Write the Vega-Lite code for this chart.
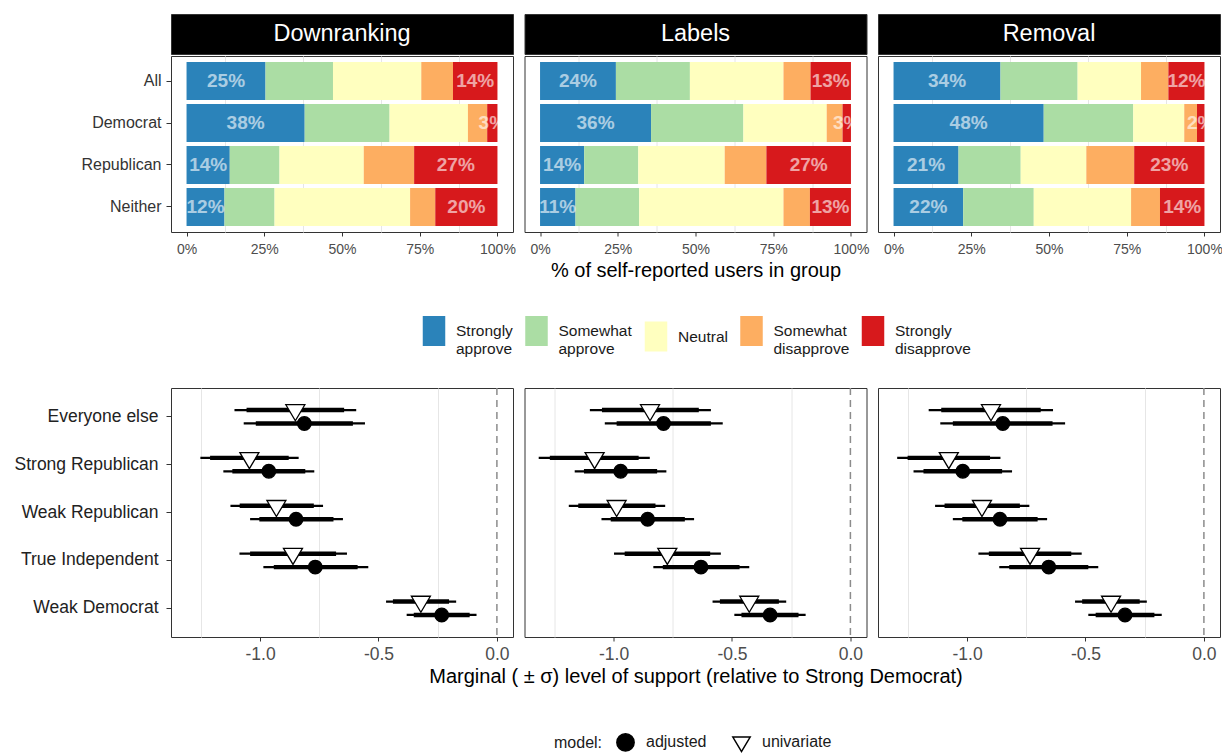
{
  "$schema": "https://vega.github.io/schema/vega-lite/v6.json",
  "padding": {"left": 13, "top": 13, "right": 2, "bottom": 0},
  "background": "white",
  "spacing": 29,
  "resolve": {"scale": {"fill": "independent", "shape": "independent"}, "legend": {"fill": "independent", "shape": "independent"}},
  "datasets": {
    "likert": [
      {"policy": "Downranking", "group": "All", "response": "Strongly approve", "level": 1, "pct": 0.254},
      {"policy": "Downranking", "group": "All", "response": "Somewhat approve", "level": 2, "pct": 0.217},
      {"policy": "Downranking", "group": "All", "response": "Neutral", "level": 3, "pct": 0.284},
      {"policy": "Downranking", "group": "All", "response": "Somewhat disapprove", "level": 4, "pct": 0.102},
      {"policy": "Downranking", "group": "All", "response": "Strongly disapprove", "level": 5, "pct": 0.143},
      {"policy": "Downranking", "group": "Democrat", "response": "Strongly approve", "level": 1, "pct": 0.380},
      {"policy": "Downranking", "group": "Democrat", "response": "Somewhat approve", "level": 2, "pct": 0.273},
      {"policy": "Downranking", "group": "Democrat", "response": "Neutral", "level": 3, "pct": 0.252},
      {"policy": "Downranking", "group": "Democrat", "response": "Somewhat disapprove", "level": 4, "pct": 0.062},
      {"policy": "Downranking", "group": "Democrat", "response": "Strongly disapprove", "level": 5, "pct": 0.033},
      {"policy": "Downranking", "group": "Republican", "response": "Strongly approve", "level": 1, "pct": 0.139},
      {"policy": "Downranking", "group": "Republican", "response": "Somewhat approve", "level": 2, "pct": 0.160},
      {"policy": "Downranking", "group": "Republican", "response": "Neutral", "level": 3, "pct": 0.271},
      {"policy": "Downranking", "group": "Republican", "response": "Somewhat disapprove", "level": 4, "pct": 0.162},
      {"policy": "Downranking", "group": "Republican", "response": "Strongly disapprove", "level": 5, "pct": 0.268},
      {"policy": "Downranking", "group": "Neither", "response": "Strongly approve", "level": 1, "pct": 0.122},
      {"policy": "Downranking", "group": "Neither", "response": "Somewhat approve", "level": 2, "pct": 0.161},
      {"policy": "Downranking", "group": "Neither", "response": "Neutral", "level": 3, "pct": 0.436},
      {"policy": "Downranking", "group": "Neither", "response": "Somewhat disapprove", "level": 4, "pct": 0.081},
      {"policy": "Downranking", "group": "Neither", "response": "Strongly disapprove", "level": 5, "pct": 0.200},
      {"policy": "Labels", "group": "All", "response": "Strongly approve", "level": 1, "pct": 0.244},
      {"policy": "Labels", "group": "All", "response": "Somewhat approve", "level": 2, "pct": 0.238},
      {"policy": "Labels", "group": "All", "response": "Neutral", "level": 3, "pct": 0.301},
      {"policy": "Labels", "group": "All", "response": "Somewhat disapprove", "level": 4, "pct": 0.087},
      {"policy": "Labels", "group": "All", "response": "Strongly disapprove", "level": 5, "pct": 0.130},
      {"policy": "Labels", "group": "Democrat", "response": "Strongly approve", "level": 1, "pct": 0.357},
      {"policy": "Labels", "group": "Democrat", "response": "Somewhat approve", "level": 2, "pct": 0.297},
      {"policy": "Labels", "group": "Democrat", "response": "Neutral", "level": 3, "pct": 0.268},
      {"policy": "Labels", "group": "Democrat", "response": "Somewhat disapprove", "level": 4, "pct": 0.051},
      {"policy": "Labels", "group": "Democrat", "response": "Strongly disapprove", "level": 5, "pct": 0.027},
      {"policy": "Labels", "group": "Republican", "response": "Strongly approve", "level": 1, "pct": 0.142},
      {"policy": "Labels", "group": "Republican", "response": "Somewhat approve", "level": 2, "pct": 0.174},
      {"policy": "Labels", "group": "Republican", "response": "Neutral", "level": 3, "pct": 0.278},
      {"policy": "Labels", "group": "Republican", "response": "Somewhat disapprove", "level": 4, "pct": 0.134},
      {"policy": "Labels", "group": "Republican", "response": "Strongly disapprove", "level": 5, "pct": 0.272},
      {"policy": "Labels", "group": "Neither", "response": "Strongly approve", "level": 1, "pct": 0.114},
      {"policy": "Labels", "group": "Neither", "response": "Somewhat approve", "level": 2, "pct": 0.205},
      {"policy": "Labels", "group": "Neither", "response": "Neutral", "level": 3, "pct": 0.464},
      {"policy": "Labels", "group": "Neither", "response": "Somewhat disapprove", "level": 4, "pct": 0.085},
      {"policy": "Labels", "group": "Neither", "response": "Strongly disapprove", "level": 5, "pct": 0.132},
      {"policy": "Removal", "group": "All", "response": "Strongly approve", "level": 1, "pct": 0.344},
      {"policy": "Removal", "group": "All", "response": "Somewhat approve", "level": 2, "pct": 0.248},
      {"policy": "Removal", "group": "All", "response": "Neutral", "level": 3, "pct": 0.204},
      {"policy": "Removal", "group": "All", "response": "Somewhat disapprove", "level": 4, "pct": 0.088},
      {"policy": "Removal", "group": "All", "response": "Strongly disapprove", "level": 5, "pct": 0.116},
      {"policy": "Removal", "group": "Democrat", "response": "Strongly approve", "level": 1, "pct": 0.483},
      {"policy": "Removal", "group": "Democrat", "response": "Somewhat approve", "level": 2, "pct": 0.288},
      {"policy": "Removal", "group": "Democrat", "response": "Neutral", "level": 3, "pct": 0.164},
      {"policy": "Removal", "group": "Democrat", "response": "Somewhat disapprove", "level": 4, "pct": 0.041},
      {"policy": "Removal", "group": "Democrat", "response": "Strongly disapprove", "level": 5, "pct": 0.024},
      {"policy": "Removal", "group": "Republican", "response": "Strongly approve", "level": 1, "pct": 0.209},
      {"policy": "Removal", "group": "Republican", "response": "Somewhat approve", "level": 2, "pct": 0.200},
      {"policy": "Removal", "group": "Republican", "response": "Neutral", "level": 3, "pct": 0.211},
      {"policy": "Removal", "group": "Republican", "response": "Somewhat disapprove", "level": 4, "pct": 0.154},
      {"policy": "Removal", "group": "Republican", "response": "Strongly disapprove", "level": 5, "pct": 0.226},
      {"policy": "Removal", "group": "Neither", "response": "Strongly approve", "level": 1, "pct": 0.224},
      {"policy": "Removal", "group": "Neither", "response": "Somewhat approve", "level": 2, "pct": 0.227},
      {"policy": "Removal", "group": "Neither", "response": "Neutral", "level": 3, "pct": 0.313},
      {"policy": "Removal", "group": "Neither", "response": "Somewhat disapprove", "level": 4, "pct": 0.093},
      {"policy": "Removal", "group": "Neither", "response": "Strongly disapprove", "level": 5, "pct": 0.143}
    ],
    "est": [
      {"p": "Downranking", "g": "Everyone else", "m": "univariate", "est": -0.851, "lo1": -1.057, "hi1": -0.645, "lo2": -1.108, "hi2": -0.594},
      {"p": "Downranking", "g": "Everyone else", "m": "adjusted", "est": -0.813, "lo1": -1.018, "hi1": -0.608, "lo2": -1.069, "hi2": -0.557},
      {"p": "Downranking", "g": "Strong Republican", "m": "univariate", "est": -1.045, "lo1": -1.211, "hi1": -0.879, "lo2": -1.252, "hi2": -0.837},
      {"p": "Downranking", "g": "Strong Republican", "m": "adjusted", "est": -0.963, "lo1": -1.117, "hi1": -0.809, "lo2": -1.155, "hi2": -0.771},
      {"p": "Downranking", "g": "Weak Republican", "m": "univariate", "est": -0.931, "lo1": -1.086, "hi1": -0.773, "lo2": -1.125, "hi2": -0.734},
      {"p": "Downranking", "g": "Weak Republican", "m": "adjusted", "est": -0.848, "lo1": -1.003, "hi1": -0.690, "lo2": -1.042, "hi2": -0.650},
      {"p": "Downranking", "g": "True Independent", "m": "univariate", "est": -0.861, "lo1": -1.042, "hi1": -0.679, "lo2": -1.087, "hi2": -0.633},
      {"p": "Downranking", "g": "True Independent", "m": "adjusted", "est": -0.767, "lo1": -0.942, "hi1": -0.588, "lo2": -0.986, "hi2": -0.543},
      {"p": "Downranking", "g": "Weak Democrat", "m": "univariate", "est": -0.321, "lo1": -0.439, "hi1": -0.202, "lo2": -0.468, "hi2": -0.172},
      {"p": "Downranking", "g": "Weak Democrat", "m": "adjusted", "est": -0.233, "lo1": -0.351, "hi1": -0.115, "lo2": -0.381, "hi2": -0.086},
      {"p": "Labels", "g": "Everyone else", "m": "univariate", "est": -0.846, "lo1": -1.049, "hi1": -0.640, "lo2": -1.100, "hi2": -0.589},
      {"p": "Labels", "g": "Everyone else", "m": "adjusted", "est": -0.789, "lo1": -0.987, "hi1": -0.589, "lo2": -1.037, "hi2": -0.539},
      {"p": "Labels", "g": "Strong Republican", "m": "univariate", "est": -1.080, "lo1": -1.269, "hi1": -0.894, "lo2": -1.316, "hi2": -0.847},
      {"p": "Labels", "g": "Strong Republican", "m": "adjusted", "est": -0.970, "lo1": -1.125, "hi1": -0.816, "lo2": -1.164, "hi2": -0.777},
      {"p": "Labels", "g": "Weak Republican", "m": "univariate", "est": -0.987, "lo1": -1.149, "hi1": -0.823, "lo2": -1.189, "hi2": -0.782},
      {"p": "Labels", "g": "Weak Republican", "m": "adjusted", "est": -0.856, "lo1": -1.012, "hi1": -0.699, "lo2": -1.051, "hi2": -0.660},
      {"p": "Labels", "g": "True Independent", "m": "univariate", "est": -0.773, "lo1": -0.953, "hi1": -0.592, "lo2": -0.998, "hi2": -0.547},
      {"p": "Labels", "g": "True Independent", "m": "adjusted", "est": -0.631, "lo1": -0.792, "hi1": -0.468, "lo2": -0.832, "hi2": -0.427},
      {"p": "Labels", "g": "Weak Democrat", "m": "univariate", "est": -0.427, "lo1": -0.551, "hi1": -0.302, "lo2": -0.582, "hi2": -0.271},
      {"p": "Labels", "g": "Weak Democrat", "m": "adjusted", "est": -0.339, "lo1": -0.460, "hi1": -0.219, "lo2": -0.490, "hi2": -0.189},
      {"p": "Removal", "g": "Everyone else", "m": "univariate", "est": -0.899, "lo1": -1.109, "hi1": -0.689, "lo2": -1.162, "hi2": -0.637},
      {"p": "Removal", "g": "Everyone else", "m": "adjusted", "est": -0.849, "lo1": -1.060, "hi1": -0.639, "lo2": -1.113, "hi2": -0.586},
      {"p": "Removal", "g": "Strong Republican", "m": "univariate", "est": -1.077, "lo1": -1.251, "hi1": -0.903, "lo2": -1.295, "hi2": -0.859},
      {"p": "Removal", "g": "Strong Republican", "m": "adjusted", "est": -1.018, "lo1": -1.184, "hi1": -0.852, "lo2": -1.226, "hi2": -0.810},
      {"p": "Removal", "g": "Weak Republican", "m": "univariate", "est": -0.937, "lo1": -1.095, "hi1": -0.777, "lo2": -1.135, "hi2": -0.737},
      {"p": "Removal", "g": "Weak Republican", "m": "adjusted", "est": -0.861, "lo1": -1.020, "hi1": -0.702, "lo2": -1.060, "hi2": -0.662},
      {"p": "Removal", "g": "True Independent", "m": "univariate", "est": -0.734, "lo1": -0.908, "hi1": -0.560, "lo2": -0.952, "hi2": -0.516},
      {"p": "Removal", "g": "True Independent", "m": "adjusted", "est": -0.655, "lo1": -0.822, "hi1": -0.488, "lo2": -0.864, "hi2": -0.446},
      {"p": "Removal", "g": "Weak Democrat", "m": "univariate", "est": -0.392, "lo1": -0.514, "hi1": -0.271, "lo2": -0.544, "hi2": -0.241},
      {"p": "Removal", "g": "Weak Democrat", "m": "adjusted", "est": -0.333, "lo1": -0.457, "hi1": -0.209, "lo2": -0.488, "hi2": -0.178}
    ]
  },
  "vconcat": [
    {
      "spacing": 0,
      "vconcat": [
        {
          "spacing": 11.5, "bounds": "flush",
          "hconcat": [
            {"width": 342, "height": 40, "view": {"fill": "black", "stroke": "#333333"},
             "data": {"values": [{"strip": "Downranking"}]},
             "mark": {"type": "text", "color": "white", "fontSize": 23.5},
             "encoding": {"text": {"field": "strip", "type": "nominal"}}},
            {"width": 342, "height": 40, "view": {"fill": "black", "stroke": "#333333"},
             "data": {"values": [{"strip": "Labels"}]},
             "mark": {"type": "text", "color": "white", "fontSize": 23.5},
             "encoding": {"text": {"field": "strip", "type": "nominal"}}},
            {"width": 342, "height": 40, "view": {"fill": "black", "stroke": "#333333"},
             "data": {"values": [{"strip": "Removal"}]},
             "mark": {"type": "text", "color": "white", "fontSize": 23.5},
             "encoding": {"text": {"field": "strip", "type": "nominal"}}}
          ]
        },
        {
          "spacing": 11.5, "bounds": "flush",
          "hconcat": [
            {"width": 342, "height": 176,
             "data": {"name": "likert"},
             "transform": [{"filter": "datum.policy === 'Downranking'"}],
             "layer": [
               {"mark": {"type": "bar"},
                "encoding": {
                  "y": {"field": "group", "type": "nominal", "sort": ["All", "Democrat", "Republican", "Neither"], "scale": {"paddingInner": 0.095, "paddingOuter": 0.143}, "axis": {"title": null, "labelFontSize": 16, "labelColor": "#333333", "tickSize": 5, "labelPadding": 5}},
                  "x": {"field": "pct", "type": "quantitative", "stack": "zero", "scale": {"domain": [-0.05, 1.05], "nice": false, "zero": false},
                        "axis": {"title": null, "values": [0, 0.125, 0.25, 0.375, 0.5, 0.625, 0.75, 0.875, 1], "format": ".0%", "labelExpr": "indexof([0, 0.25, 0.5, 0.75, 1], datum.value) >= 0 ? datum.label : ''", "gridOpacity": {"condition": {"test": "indexof([0, 0.25, 0.5, 0.75, 1], datum.value) >= 0", "value": 0}, "value": 1}, "tickOpacity": {"condition": {"test": "indexof([0, 0.25, 0.5, 0.75, 1], datum.value) >= 0", "value": 1}, "value": 0}, "labelFontSize": 14, "tickSize": 4, "labelPadding": 6}},
                  "fill": {"field": "response", "type": "nominal",
                           "scale": {"domain": ["Strongly approve", "Somewhat approve", "Neutral", "Somewhat disapprove", "Strongly disapprove"], "range": ["#2b83ba", "#abdda4", "#ffffbf", "#fdae61", "#d7191c"]},
                           "legend": {"orient": "none", "legendX": 248, "legendY": 302, "direction": "horizontal", "title": null, "symbolType": "M-0.75,-1H0.75V1H-0.75Z", "symbolSize": 900, "symbolStrokeWidth": 0, "symbolOpacity": 1, "labelFontSize": 15.5, "labelColor": "#1a1a1a", "labelLimit": 200, "labelOffset": 7, "labelExpr": "split(datum.label, ' ')", "labelLineHeight": 16, "columnPadding": 8.5, "padding": 0}},
                  "order": {"field": "level", "type": "quantitative"}
                }},
               {"mark": {"type": "text", "color": "white", "opacity": 0.6, "fontSize": 19, "fontWeight": "bold"},
                "encoding": {
                  "y": {"field": "group", "type": "nominal", "sort": ["All", "Democrat", "Republican", "Neither"]},
                  "x": {"field": "pct", "type": "quantitative", "stack": "zero", "bandPosition": 0.5},
                  "detail": {"field": "response", "type": "nominal"},
                  "order": {"field": "level", "type": "quantitative"},
                  "text": {"condition": {"test": "datum.level == 1 || datum.level == 5", "field": "pct", "type": "quantitative", "format": ".0%"}, "value": ""}
                }}
             ]},
            {"width": 342, "height": 176,
             "data": {"name": "likert"},
             "transform": [{"filter": "datum.policy === 'Labels'"}],
             "layer": [
               {"mark": {"type": "bar"},
                "encoding": {
                  "y": {"field": "group", "type": "nominal", "sort": ["All", "Democrat", "Republican", "Neither"], "scale": {"paddingInner": 0.095, "paddingOuter": 0.143}, "axis": null},
                  "x": {"field": "pct", "type": "quantitative", "stack": "zero", "scale": {"domain": [-0.05, 1.05], "nice": false, "zero": false},
                        "axis": {"title": "% of self-reported users in group", "titleFontSize": 20, "titlePadding": 4, "values": [0, 0.125, 0.25, 0.375, 0.5, 0.625, 0.75, 0.875, 1], "format": ".0%", "labelExpr": "indexof([0, 0.25, 0.5, 0.75, 1], datum.value) >= 0 ? datum.label : ''", "gridOpacity": {"condition": {"test": "indexof([0, 0.25, 0.5, 0.75, 1], datum.value) >= 0", "value": 0}, "value": 1}, "tickOpacity": {"condition": {"test": "indexof([0, 0.25, 0.5, 0.75, 1], datum.value) >= 0", "value": 1}, "value": 0}, "labelFontSize": 14, "tickSize": 4, "labelPadding": 6}},
                  "fill": {"field": "response", "type": "nominal", "legend": null},
                  "order": {"field": "level", "type": "quantitative"}
                }},
               {"mark": {"type": "text", "color": "white", "opacity": 0.6, "fontSize": 19, "fontWeight": "bold"},
                "encoding": {
                  "y": {"field": "group", "type": "nominal", "sort": ["All", "Democrat", "Republican", "Neither"]},
                  "x": {"field": "pct", "type": "quantitative", "stack": "zero", "bandPosition": 0.5},
                  "detail": {"field": "response", "type": "nominal"},
                  "order": {"field": "level", "type": "quantitative"},
                  "text": {"condition": {"test": "datum.level == 1 || datum.level == 5", "field": "pct", "type": "quantitative", "format": ".0%"}, "value": ""}
                }}
             ]},
            {"width": 342, "height": 176,
             "data": {"name": "likert"},
             "transform": [{"filter": "datum.policy === 'Removal'"}],
             "layer": [
               {"mark": {"type": "bar"},
                "encoding": {
                  "y": {"field": "group", "type": "nominal", "sort": ["All", "Democrat", "Republican", "Neither"], "scale": {"paddingInner": 0.095, "paddingOuter": 0.143}, "axis": null},
                  "x": {"field": "pct", "type": "quantitative", "stack": "zero", "scale": {"domain": [-0.05, 1.05], "nice": false, "zero": false},
                        "axis": {"title": null, "values": [0, 0.125, 0.25, 0.375, 0.5, 0.625, 0.75, 0.875, 1], "format": ".0%", "labelExpr": "indexof([0, 0.25, 0.5, 0.75, 1], datum.value) >= 0 ? datum.label : ''", "gridOpacity": {"condition": {"test": "indexof([0, 0.25, 0.5, 0.75, 1], datum.value) >= 0", "value": 0}, "value": 1}, "tickOpacity": {"condition": {"test": "indexof([0, 0.25, 0.5, 0.75, 1], datum.value) >= 0", "value": 1}, "value": 0}, "labelFontSize": 14, "tickSize": 4, "labelPadding": 6}},
                  "fill": {"field": "response", "type": "nominal", "legend": null},
                  "order": {"field": "level", "type": "quantitative"}
                }},
               {"mark": {"type": "text", "color": "white", "opacity": 0.6, "fontSize": 19, "fontWeight": "bold"},
                "encoding": {
                  "y": {"field": "group", "type": "nominal", "sort": ["All", "Democrat", "Republican", "Neither"]},
                  "x": {"field": "pct", "type": "quantitative", "stack": "zero", "bandPosition": 0.5},
                  "detail": {"field": "response", "type": "nominal"},
                  "order": {"field": "level", "type": "quantitative"},
                  "text": {"condition": {"test": "datum.level == 1 || datum.level == 5", "field": "pct", "type": "quantitative", "format": ".0%"}, "value": ""}
                }}
             ]}
          ]
        }
      ]
    },
    {
      "spacing": 11.5, "bounds": "flush",
      "hconcat": [
        {"width": 342, "height": 249,
         "layer": [
           {"data": {"values": [{"ref": 0}]},
            "mark": {"type": "rule", "color": "#8c8c8c", "strokeDash": [7, 5], "strokeWidth": 1.5},
            "encoding": {"x": {"field": "ref", "type": "quantitative", "scale": {"domain": [-1.376, 0.068], "nice": false, "zero": false},
              "axis": {"title": null, "values": [-1.25, -1, -0.75, -0.5, -0.25, 0], "format": ".1f", "labelExpr": "indexof([-1, -0.5, 0], datum.value) >= 0 ? replace(datum.label, '\u2212', '-') : ''", "gridOpacity": {"condition": {"test": "indexof([-1, -0.5, 0], datum.value) >= 0", "value": 0}, "value": 1}, "tickOpacity": {"condition": {"test": "indexof([-1, -0.5, 0], datum.value) >= 0", "value": 1}, "value": 0}, "labelFontSize": 17.5, "tickSize": 4, "labelPadding": 4}}}},
           {"data": {"name": "est"}, "transform": [{"filter": "datum.p === 'Downranking'"}],
            "mark": {"type": "rule", "color": "black", "strokeWidth": 2.2},
            "encoding": {
              "y": {"field": "g", "type": "nominal", "sort": ["Everyone else", "Strong Republican", "Weak Republican", "True Independent", "Weak Democrat"], "scale": {"paddingInner": 0, "paddingOuter": 0.1}, "axis": {"title": null, "labelFontSize": 17.5, "labelColor": "#222222", "tickSize": 5, "labelPadding": 8}},
              "yOffset": {"field": "m", "type": "nominal", "sort": ["univariate", "adjusted"], "scale": {"paddingInner": 0, "paddingOuter": 0.787}},
              "x": {"field": "lo2", "type": "quantitative"}, "x2": {"field": "hi2"}}},
           {"data": {"name": "est"}, "transform": [{"filter": "datum.p === 'Downranking'"}],
            "mark": {"type": "rule", "color": "black", "strokeWidth": 4.4},
            "encoding": {
              "y": {"field": "g", "type": "nominal", "sort": ["Everyone else", "Strong Republican", "Weak Republican", "True Independent", "Weak Democrat"]},
              "yOffset": {"field": "m", "type": "nominal", "sort": ["univariate", "adjusted"]},
              "x": {"field": "lo1", "type": "quantitative"}, "x2": {"field": "hi1"}}},
           {"data": {"name": "est"}, "transform": [{"filter": "datum.p === 'Downranking'"}],
            "mark": {"type": "point", "filled": true, "stroke": "black", "strokeWidth": 1.3, "opacity": 1},
            "encoding": {
              "y": {"field": "g", "type": "nominal", "sort": ["Everyone else", "Strong Republican", "Weak Republican", "True Independent", "Weak Democrat"]},
              "yOffset": {"field": "m", "type": "nominal", "sort": ["univariate", "adjusted"]},
              "x": {"field": "est", "type": "quantitative"},
              "shape": {"field": "m", "type": "nominal", "scale": {"domain": ["adjusted", "univariate"], "range": ["circle", "M-1,-0.56L1,-0.56L0,1.13Z"]},
                "legend": {"orient": "none", "legendX": 383, "legendY": 344, "direction": "horizontal", "title": "model:", "titleOrient": "left", "titleFontSize": 16, "titleFontWeight": "normal", "titleColor": "#1a1a1a", "titlePadding": 13, "titleBaseline": "middle", "titleAnchor": "middle", "labelFontSize": 16, "labelColor": "#1a1a1a", "symbolSize": 300, "symbolStrokeWidth": 1.5, "labelOffset": 11, "columnPadding": 22, "padding": 0}},
              "fill": {"field": "m", "type": "nominal", "scale": {"domain": ["adjusted", "univariate"], "range": ["black", "white"]},
                "legend": {"orient": "none", "legendX": 383, "legendY": 344, "direction": "horizontal", "title": "model:", "titleOrient": "left", "titleFontSize": 16, "titleFontWeight": "normal", "titleColor": "#1a1a1a", "titlePadding": 13, "titleBaseline": "middle", "titleAnchor": "middle", "labelFontSize": 16, "labelColor": "#1a1a1a", "symbolSize": 300, "symbolStrokeWidth": 1.5, "labelOffset": 11, "columnPadding": 22, "padding": 0}},
              "size": {"condition": {"test": "datum.m === 'adjusted'", "value": 185}, "value": 361}}}
         ]},
        {"width": 342, "height": 249,
         "layer": [
           {"data": {"values": [{"ref": 0}]},
            "mark": {"type": "rule", "color": "#8c8c8c", "strokeDash": [7, 5], "strokeWidth": 1.5},
            "encoding": {"x": {"field": "ref", "type": "quantitative", "scale": {"domain": [-1.376, 0.068], "nice": false, "zero": false},
              "axis": {"title": "Marginal ( \u00b1 \u03c3) level of support (relative to Strong Democrat)", "titleFontSize": 20, "titlePadding": 4, "values": [-1.25, -1, -0.75, -0.5, -0.25, 0], "format": ".1f", "labelExpr": "indexof([-1, -0.5, 0], datum.value) >= 0 ? replace(datum.label, '\u2212', '-') : ''", "gridOpacity": {"condition": {"test": "indexof([-1, -0.5, 0], datum.value) >= 0", "value": 0}, "value": 1}, "tickOpacity": {"condition": {"test": "indexof([-1, -0.5, 0], datum.value) >= 0", "value": 1}, "value": 0}, "labelFontSize": 17.5, "tickSize": 4, "labelPadding": 4}}}},
           {"data": {"name": "est"}, "transform": [{"filter": "datum.p === 'Labels'"}],
            "mark": {"type": "rule", "color": "black", "strokeWidth": 2.2},
            "encoding": {
              "y": {"field": "g", "type": "nominal", "sort": ["Everyone else", "Strong Republican", "Weak Republican", "True Independent", "Weak Democrat"], "scale": {"paddingInner": 0, "paddingOuter": 0.1}, "axis": null},
              "yOffset": {"field": "m", "type": "nominal", "sort": ["univariate", "adjusted"]},
              "x": {"field": "lo2", "type": "quantitative"}, "x2": {"field": "hi2"}}},
           {"data": {"name": "est"}, "transform": [{"filter": "datum.p === 'Labels'"}],
            "mark": {"type": "rule", "color": "black", "strokeWidth": 4.4},
            "encoding": {
              "y": {"field": "g", "type": "nominal", "sort": ["Everyone else", "Strong Republican", "Weak Republican", "True Independent", "Weak Democrat"]},
              "yOffset": {"field": "m", "type": "nominal", "sort": ["univariate", "adjusted"]},
              "x": {"field": "lo1", "type": "quantitative"}, "x2": {"field": "hi1"}}},
           {"data": {"name": "est"}, "transform": [{"filter": "datum.p === 'Labels'"}],
            "mark": {"type": "point", "filled": true, "stroke": "black", "strokeWidth": 1.3, "opacity": 1},
            "encoding": {
              "y": {"field": "g", "type": "nominal", "sort": ["Everyone else", "Strong Republican", "Weak Republican", "True Independent", "Weak Democrat"]},
              "yOffset": {"field": "m", "type": "nominal", "sort": ["univariate", "adjusted"]},
              "x": {"field": "est", "type": "quantitative"},
              "shape": {"field": "m", "type": "nominal", "legend": null},
              "fill": {"field": "m", "type": "nominal", "legend": null},
              "size": {"condition": {"test": "datum.m === 'adjusted'", "value": 185}, "value": 361}}}
         ]},
        {"width": 342, "height": 249,
         "layer": [
           {"data": {"values": [{"ref": 0}]},
            "mark": {"type": "rule", "color": "#8c8c8c", "strokeDash": [7, 5], "strokeWidth": 1.5},
            "encoding": {"x": {"field": "ref", "type": "quantitative", "scale": {"domain": [-1.376, 0.068], "nice": false, "zero": false},
              "axis": {"title": null, "values": [-1.25, -1, -0.75, -0.5, -0.25, 0], "format": ".1f", "labelExpr": "indexof([-1, -0.5, 0], datum.value) >= 0 ? replace(datum.label, '\u2212', '-') : ''", "gridOpacity": {"condition": {"test": "indexof([-1, -0.5, 0], datum.value) >= 0", "value": 0}, "value": 1}, "tickOpacity": {"condition": {"test": "indexof([-1, -0.5, 0], datum.value) >= 0", "value": 1}, "value": 0}, "labelFontSize": 17.5, "tickSize": 4, "labelPadding": 4}}}},
           {"data": {"name": "est"}, "transform": [{"filter": "datum.p === 'Removal'"}],
            "mark": {"type": "rule", "color": "black", "strokeWidth": 2.2},
            "encoding": {
              "y": {"field": "g", "type": "nominal", "sort": ["Everyone else", "Strong Republican", "Weak Republican", "True Independent", "Weak Democrat"], "scale": {"paddingInner": 0, "paddingOuter": 0.1}, "axis": null},
              "yOffset": {"field": "m", "type": "nominal", "sort": ["univariate", "adjusted"]},
              "x": {"field": "lo2", "type": "quantitative"}, "x2": {"field": "hi2"}}},
           {"data": {"name": "est"}, "transform": [{"filter": "datum.p === 'Removal'"}],
            "mark": {"type": "rule", "color": "black", "strokeWidth": 4.4},
            "encoding": {
              "y": {"field": "g", "type": "nominal", "sort": ["Everyone else", "Strong Republican", "Weak Republican", "True Independent", "Weak Democrat"]},
              "yOffset": {"field": "m", "type": "nominal", "sort": ["univariate", "adjusted"]},
              "x": {"field": "lo1", "type": "quantitative"}, "x2": {"field": "hi1"}}},
           {"data": {"name": "est"}, "transform": [{"filter": "datum.p === 'Removal'"}],
            "mark": {"type": "point", "filled": true, "stroke": "black", "strokeWidth": 1.3, "opacity": 1},
            "encoding": {
              "y": {"field": "g", "type": "nominal", "sort": ["Everyone else", "Strong Republican", "Weak Republican", "True Independent", "Weak Democrat"]},
              "yOffset": {"field": "m", "type": "nominal", "sort": ["univariate", "adjusted"]},
              "x": {"field": "est", "type": "quantitative"},
              "shape": {"field": "m", "type": "nominal", "legend": null},
              "fill": {"field": "m", "type": "nominal", "legend": null},
              "size": {"condition": {"test": "datum.m === 'adjusted'", "value": 185}, "value": 361}}}
         ]}
      ]
    }
  ],
  "config": {
    "font": "Liberation Sans",
    "view": {"stroke": "#333333", "strokeWidth": 1},
    "axis": {"domain": false, "tickColor": "#333333", "labelColor": "#4d4d4d", "titleColor": "#000000", "titleFontWeight": "normal", "gridColor": "#e6e6e6", "gridWidth": 1, "labelOverlap": false},
    "legend": {"padding": 0}
  }
}
